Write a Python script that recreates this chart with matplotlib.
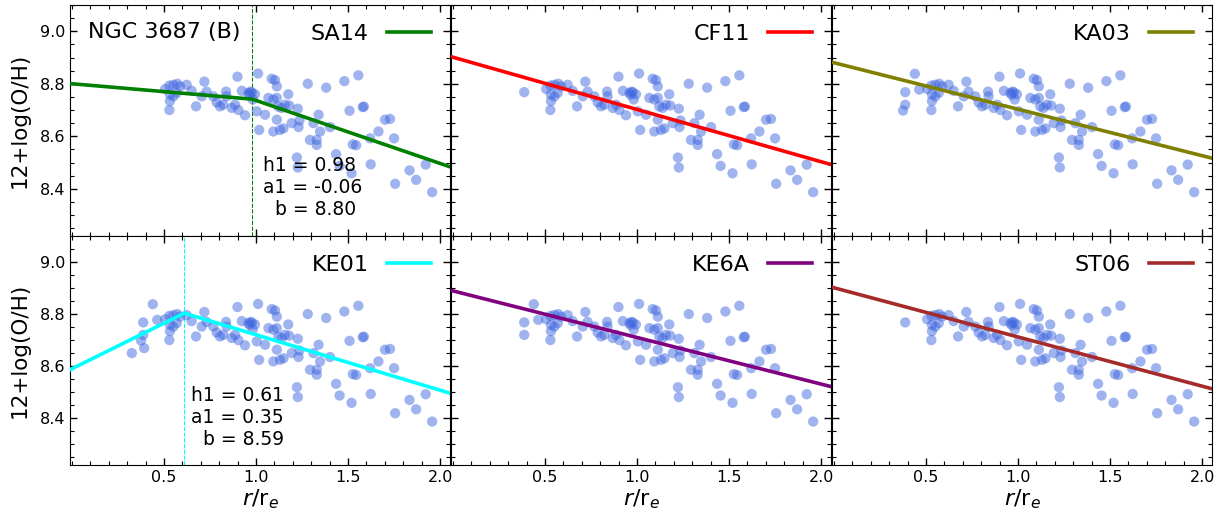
import numpy as np
import matplotlib
matplotlib.use("Agg")
import matplotlib.pyplot as plt
from matplotlib.lines import Line2D
from matplotlib.ticker import MultipleLocator, FixedLocator
import matplotlib.transforms as mtransforms

# ---------------- data ----------------
# common points (r/re, 12+log(O/H))
common_x = [0.506, 0.529, 0.551, 0.572, 0.587, 0.532, 0.551, 0.569, 0.532, 0.529,
            0.623, 0.650, 0.674, 0.705, 0.719, 0.731, 0.768, 0.786, 0.804, 0.822,
            0.837, 0.840, 0.868, 0.886, 0.899, 0.904, 0.923, 0.940, 0.959, 0.977,
            0.982, 1.011, 1.017, 0.994, 1.004, 1.049, 1.067, 1.085, 1.103, 1.113,
            1.094, 1.113, 1.121, 1.094, 1.113, 1.130, 1.149, 1.139, 1.157, 1.175,
            1.180, 1.194, 1.227, 1.236, 1.231, 1.281, 1.293, 1.312, 1.330, 1.330,
            1.340, 1.348, 1.222, 1.227, 1.381, 1.402, 1.435, 1.454, 1.480, 1.508,
            1.526, 1.544, 1.519, 1.556, 1.580, 1.586, 1.620, 1.623, 1.665, 1.701,
            1.728, 1.750, 1.756, 1.834, 1.870, 1.922, 1.957, 0.970, 0.965]
common_y = [8.780, 8.793, 8.796, 8.800, 8.790, 8.759, 8.752, 8.765, 8.734, 8.700,
            8.796, 8.773, 8.714, 8.752, 8.808, 8.770, 8.752, 8.729, 8.714, 8.720,
            8.770, 8.752, 8.708, 8.720, 8.827, 8.700, 8.773, 8.680, 8.765, 8.767,
            8.740, 8.839, 8.624, 8.760, 8.695, 8.682, 8.746, 8.819, 8.814, 8.790,
            8.740, 8.746, 8.713, 8.618, 8.663, 8.624, 8.630, 8.708, 8.720, 8.760,
            8.717, 8.650, 8.705, 8.660, 8.635, 8.800, 8.586, 8.650, 8.586, 8.567,
            8.682, 8.618, 8.519, 8.481, 8.785, 8.635, 8.532, 8.487, 8.810, 8.697,
            8.569, 8.566, 8.459, 8.832, 8.711, 8.713, 8.592, 8.493, 8.618, 8.663,
            8.666, 8.592, 8.419, 8.470, 8.434, 8.492, 8.387, 8.770, 8.758]

# inner points that only some calibrations give
extra_x = [0.325, 0.375, 0.387, 0.387, 0.392, 0.439, 0.463]
extra_y = [8.650, 8.698, 8.768, 8.720, 8.669, 8.838, 8.778]

calibrations = ["SA14", "CF11", "KA03", "KE01", "KE6A", "ST06"]
extra_shown = {"SA14": [], "CF11": [2], "KA03": [1, 2, 3, 5, 6],
               "KE01": [0, 1, 2, 3, 4, 5, 6], "KE6A": [2, 3, 5, 6], "ST06": [2]}

# fit parameters: break radius h1, inner slope a1, intercept b, outer slope a2
fit_h1 = {"SA14": 0.98, "KE01": 0.61}
fit_a1 = {"SA14": -0.06, "KE01": 0.35}
fit_b = {"SA14": 8.80, "CF11": 8.901, "KA03": 8.880, "KE01": 8.59, "KE6A": 8.889, "ST06": 8.901}
fit_a2 = {"SA14": -0.240, "CF11": -0.199, "KA03": -0.177, "KE01": -0.213,
          "KE6A": -0.179, "ST06": -0.189}

line_colors = {"SA14": "green", "CF11": "red", "KA03": "olive", "KE01": "cyan",
               "KE6A": "purple", "ST06": "brown"}

galaxy = "NGC 3687 (B)"
x_ticks = [0.5, 1.0, 1.5, 2.0]
xlim = (-0.011, 2.054)
ylim = (8.22, 9.10)

# ---------------- figure ----------------
W, H = 1223, 518
fig = plt.figure(figsize=(W / 100, H / 100), dpi=100)

lefts = [70, 451, 832]
width = 380
rows = [(5, 236), (236, 465)]

axes = []
for r, (top, bot) in enumerate(rows):
    for c in range(3):
        ax = fig.add_axes([lefts[c] / W, 1 - bot / H, width / W, (bot - top) / H])
        axes.append(ax)

for i, (ax, cal) in enumerate(zip(axes, calibrations)):
    row, col = divmod(i, 3)
    xs = list(common_x) + [extra_x[k] for k in extra_shown[cal]]
    ys = list(common_y) + [extra_y[k] for k in extra_shown[cal]]
    ax.scatter(xs, ys, s=55, color="royalblue", alpha=0.5, edgecolors="none", zorder=2)

    xx = np.linspace(xlim[0], xlim[1], 400)
    b = fit_b[cal]
    if cal in fit_h1:
        h1, a1, a2 = fit_h1[cal], fit_a1[cal], fit_a2[cal]
        yb = b + a1 * h1
        yy = np.where(xx < h1, b + a1 * xx, yb + a2 * (xx - h1))
        ax.axvline(h1, color=line_colors[cal], ls=(0, (4, 1.5)), lw=0.75, zorder=1)
        trans = mtransforms.blended_transform_factory(ax.transData, ax.transAxes)
        ax.text(h1 * 1.058, 0.345,
                f"h1 = {h1:.2f}\na1 = {a1:.2f}\n  b = {b:.2f}",
                transform=trans, ha="left", va="top", fontsize=13.5)
    else:
        yy = b + fit_a2[cal] * xx
    ax.plot(xx, yy, color=line_colors[cal], lw=2.6, zorder=3)

    ax.legend(handles=[Line2D([], [], color=line_colors[cal], lw=2.6)],
              labels=[cal], loc="upper right", frameon=False,
              markerfirst=False, fontsize=16, handlelength=2.0,
              borderaxespad=0.45)

    ax.set_xlim(*xlim)
    ax.set_ylim(*ylim)
    ax.xaxis.set_major_locator(FixedLocator(x_ticks))
    ax.xaxis.set_minor_locator(MultipleLocator(0.1))
    ax.yaxis.set_major_locator(MultipleLocator(0.2))
    ax.yaxis.set_minor_locator(MultipleLocator(0.05))
    ax.tick_params(which="both", direction="in", top=True, right=True,
                   labelsize=11.5)
    ax.tick_params(which="major", length=5, width=1)
    ax.tick_params(which="minor", length=2.8, width=0.8)
    if col != 0:
        ax.tick_params(labelleft=False)
    else:
        ax.set_ylabel("12+log(O/H)", fontsize=15.5, labelpad=7)
    if row == 1:
        ax.set_xlabel(r"$r/\mathrm{r}_e$", fontsize=16, labelpad=2)
    else:
        ax.tick_params(labelbottom=False)
    if i == 0:
        ax.text(0.048, 0.882, galaxy, transform=ax.transAxes, fontsize=16,
                ha="left", va="center")

fig.savefig("out.png", dpi=100)
